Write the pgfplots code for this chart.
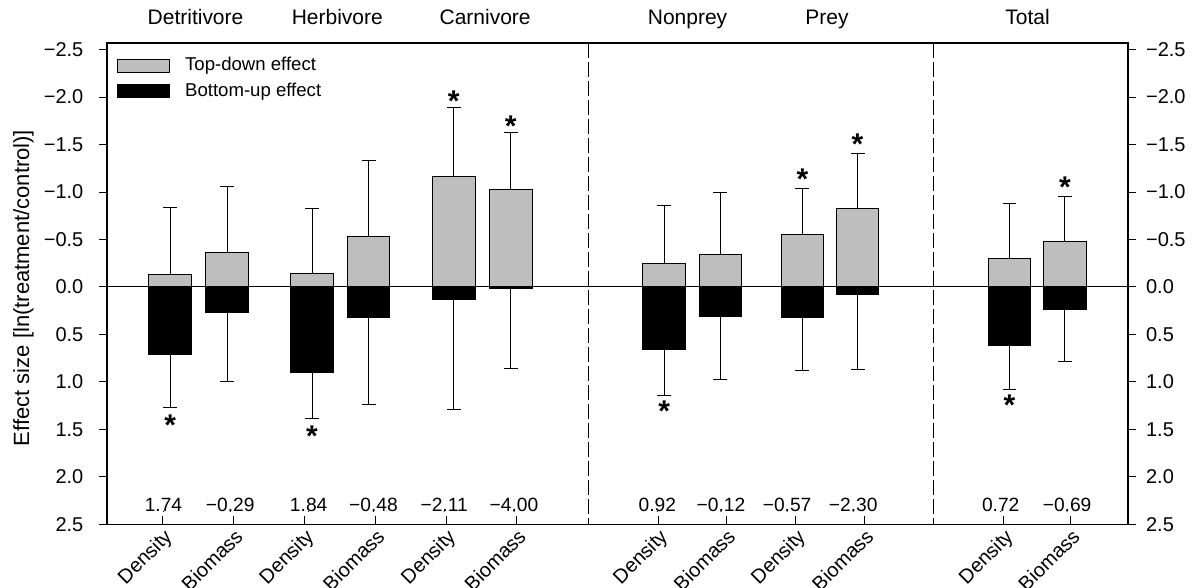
\documentclass[border=0pt]{standalone}
\usepackage{fontspec}
\setmainfont{Liberation Sans}
\usepackage{pgfplots}
\usepackage{pgfplotstable}
\pgfplotsset{compat=1.18}

% x positions are in the reference's pixel units
\pgfplotstableread{
x y e
170.4 -0.126 0.714
227.4 -0.358 0.700
312.2 -0.147 0.678
368.7 -0.533 0.797
454.0 -1.160 0.730
510.9 -1.030 0.600
664.5 -0.252 0.608
720.7 -0.340 0.660
802.8 -0.556 0.479
857.9 -0.830 0.580
1009.9 -0.300 0.574
1065.3 -0.476 0.482
}\topdown

\pgfplotstableread{
x y e
170.4 0.707 0.558
227.4 0.265 0.728
312.2 0.906 0.484
368.7 0.324 0.909
454.0 0.132 1.154
510.9 0.017 0.843
664.5 0.654 0.486
720.7 0.308 0.672
802.8 0.318 0.567
857.9 0.084 0.786
1009.9 0.615 0.462
1065.3 0.238 0.549
}\bottomup

\pgfplotstableread{
x y lab
170.4 1.41 *
312.2 1.53 *
664.5 1.27 *
1009.9 1.20 *
454.0 -2.00 *
510.9 -1.74 *
802.8 -1.18 *
857.9 -1.55 *
1065.3 -1.09 *
}\stars

\pgfplotstableread{
x y lab
163.5 2.365 1.74
230.3 2.365 −0.29
308.8 2.365 1.84
373.6 2.365 −0.48
444.3 2.365 −2.11
514.2 2.365 −4.00
657.6 2.365 0.92
721.3 2.365 −0.12
787.4 2.365 −0.57
853.5 2.365 −2.30
1001.1 2.365 0.72
1067.5 2.365 −0.69
}\vals

\definecolor{tdgray}{RGB}{190,190,190}

\begin{document}
\begin{tikzpicture}[font=\fontsize{10}{12}\selectfont]
\pgfplotsset{
  common/.style={
    scale only axis, width=510.75pt, height=240.75pt,
    xmin=107, xmax=1128.5, ymin=-2.57, ymax=2.5, y dir=reverse,
    axis line style={line width=0.6pt},
    major tick length=4pt,
    tick style={line width=0.5pt, black},
  }
}
% left y ticks and label
\begin{axis}[common,
  xtick=\empty, ytick pos=left, tick align=outside,
  ytick={-2.5,-2,-1.5,-1,-0.5,0,0.5,1,1.5,2,2.5},
  yticklabels={−2.5,−2.0,−1.5,−1.0,−0.5,0.0,0.5,1.0,1.5,2.0,2.5},
  yticklabel style={xshift=-4.3pt},
  ylabel={Effect size [ln(treatment/control)]},
  every axis y label/.style={at={(axis description cs:-0.0817,0.491)}, rotate=90, anchor=center,
    font=\fontsize{11}{13}\selectfont},
]
\end{axis}
% right y ticks
\begin{axis}[common,
  xtick=\empty, ytick pos=right, yticklabel pos=right, tick align=outside,
  ytick={-2.5,-2,-1.5,-1,-0.5,0,0.5,1,1.5,2,2.5},
  yticklabels={−2.5,−2.0,−1.5,−1.0,−0.5,0.0,0.5,1.0,1.5,2.0,2.5},
  yticklabel style={xshift=1.5pt},
]
\end{axis}
% main axis
\begin{axis}[common, name=ax, clip=false,
  ytick=\empty, tick align=inside, xtick pos=bottom,
  xtick={162.8,233.9,304.5,375.6,446.3,517.0,658.4,726.4,796.3,864.7,1004.2,1071.1},
  xticklabels={Density,Biomass,Density,Biomass,Density,Biomass,Density,Biomass,Density,Biomass,Density,Biomass},
  xticklabel style={rotate=45, anchor=north east, inner sep=1pt},
  legend style={draw=none, fill=none, inner sep=0pt, outer sep=0pt,
    at={(axis description cs:0.0094,0.970)}, anchor=north west,
    font=\fontsize{9.3}{11}\selectfont, row sep=4.4pt, column sep=7.5pt,
    nodes={inner sep=0pt}},
  legend cell align=left,
]
\addplot[forget plot, line width=0.5pt] coordinates {(107,0) (1128.5,0)};
\addplot[forget plot, line width=0.6pt, dash pattern=on 7.5pt off 2pt] coordinates {(588.5,-2.57) (588.5,2.5)};
\addplot[forget plot, line width=0.6pt, dash pattern=on 7.5pt off 2pt] coordinates {(933.5,-2.57) (933.5,2.5)};

\addplot[ybar, bar width=42.8, bar shift=0pt, fill=tdgray, draw=black, line width=0.5pt,
  legend image code/.code={\draw[fill=tdgray, draw=black, line width=0.5pt] (0pt,-3.3pt) rectangle (26.3pt,3.3pt);},
  error bars/.cd, y dir=minus, y explicit,
  error bar style={line width=0.5pt, black},
  error mark options={rotate=90, mark size=3.5pt, line width=0.5pt, black}]
  table[x=x, y=y, y error=e] \topdown;
\addlegendentry{Top-down effect}
\addplot[ybar, bar width=42.8, bar shift=0pt, fill=black, draw=black, line width=0.5pt,
  legend image code/.code={\draw[fill=black, draw=black, line width=0.5pt] (0pt,-3.3pt) rectangle (26.3pt,3.3pt);},
  error bars/.cd, y dir=plus, y explicit,
  error bar style={line width=0.5pt, black},
  error mark options={rotate=90, mark size=3.5pt, line width=0.5pt, black}]
  table[x=x, y=y, y error=e] \bottomup;
\addlegendentry{Bottom-up effect}

\addplot[forget plot, only marks, mark=*, mark size=0.01pt, mark options={draw=none, fill=none},
  nodes near coords, point meta=explicit symbolic,
  every node near coord/.style={anchor=center, yshift=-2pt, font=\fontsize{15}{15}\bfseries\selectfont, text=black}]
  table[x=x, y=y, meta=lab] \stars;

\addplot[forget plot, only marks, mark=*, mark size=0.01pt, mark options={draw=none, fill=none},
  nodes near coords, point meta=explicit symbolic,
  every node near coord/.style={anchor=base, inner sep=0pt, font=\fontsize{9.6}{11}\selectfont, text=black}]
  table[x=x, y=y, meta=lab] \vals;

\begin{scope}[every node/.style={anchor=base, inner sep=0pt, font=\fontsize{10.5}{12}\selectfont}]
\node[yshift=9pt] at (axis cs:195.6,-2.57) {Detritivore};
\node[yshift=9pt] at (axis cs:337.4,-2.57) {Herbivore};
\node[yshift=9pt] at (axis cs:485.3,-2.57) {Carnivore};
\node[yshift=9pt] at (axis cs:687.8,-2.57) {Nonprey};
\node[yshift=9pt] at (axis cs:827.3,-2.57) {Prey};
\node[yshift=9pt] at (axis cs:1027.9,-2.57) {Total};
\end{scope}
\end{axis}
\pgfresetboundingbox
\path[use as bounding box] ([shift={(-53.5pt,-31.75pt)}]ax.south west) rectangle ([shift={(34pt,21.5pt)}]ax.north east);
\end{tikzpicture}
\end{document}
